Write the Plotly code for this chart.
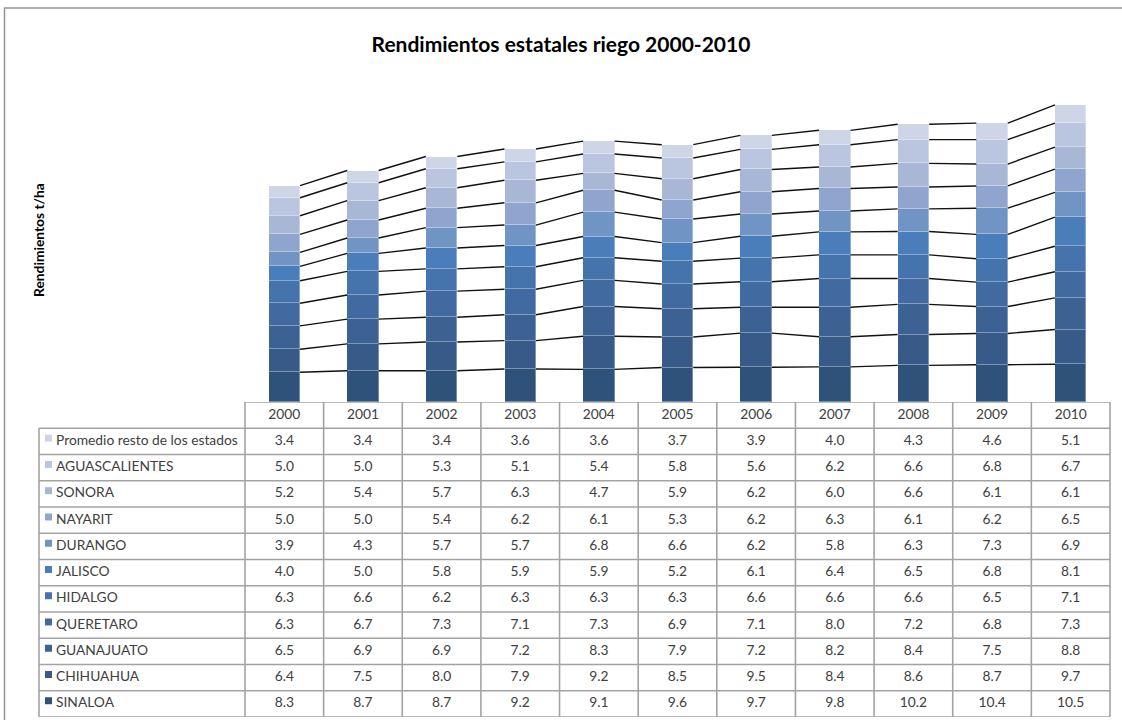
import plotly.graph_objects as go

# ---- data -------------------------------------------------------------
years = ["2000", "2001", "2002", "2003", "2004", "2005",
         "2006", "2007", "2008", "2009", "2010"]

promedio_resto = [3.4, 3.4, 3.4, 3.6, 3.6, 3.7, 3.9, 4.0, 4.3, 4.6, 5.1]
aguascalientes = [5.0, 5.0, 5.3, 5.1, 5.4, 5.8, 5.6, 6.2, 6.6, 6.8, 6.7]
sonora = [5.2, 5.4, 5.7, 6.3, 4.7, 5.9, 6.2, 6.0, 6.6, 6.1, 6.1]
nayarit = [5.0, 5.0, 5.4, 6.2, 6.1, 5.3, 6.2, 6.3, 6.1, 6.2, 6.5]
durango = [3.9, 4.3, 5.7, 5.7, 6.8, 6.6, 6.2, 5.8, 6.3, 7.3, 6.9]
jalisco = [4.0, 5.0, 5.8, 5.9, 5.9, 5.2, 6.1, 6.4, 6.5, 6.8, 8.1]
hidalgo = [6.3, 6.6, 6.2, 6.3, 6.3, 6.3, 6.6, 6.6, 6.6, 6.5, 7.1]
queretaro = [6.3, 6.7, 7.3, 7.1, 7.3, 6.9, 7.1, 8.0, 7.2, 6.8, 7.3]
guanajuato = [6.5, 6.9, 6.9, 7.2, 8.3, 7.9, 7.2, 8.2, 8.4, 7.5, 8.8]
chihuahua = [6.4, 7.5, 8.0, 7.9, 9.2, 8.5, 9.5, 8.4, 8.6, 8.7, 9.7]
sinaloa = [8.3, 8.7, 8.7, 9.2, 9.1, 9.6, 9.7, 9.8, 10.2, 10.4, 10.5]

# table order (top row first); the stack is drawn in reverse (SINALOA at the base)
series_names = ["Promedio resto de los estados", "AGUASCALIENTES", "SONORA",
                "NAYARIT", "DURANGO", "JALISCO", "HIDALGO", "QUERETARO",
                "GUANAJUATO", "CHIHUAHUA", "SINALOA"]
series_values = [promedio_resto, aguascalientes, sonora, nayarit, durango,
                 jalisco, hidalgo, queretaro, guanajuato, chihuahua, sinaloa]
series_colors = ["#cdd5e6", "#bac6df", "#a8b7d5", "#8fa5cd", "#7094c4",
                 "#4a7ebb", "#4574ad", "#416aa0", "#3c6293", "#375a88",
                 "#2f527b"]

# ---- layout geometry (pixels) -----------------------------------------
W, H = 1122, 720
ML, MR, MT, MB = 37, 10, 79, 3
COL_LEFT, COL_RIGHT = 245, 1110      # year columns of the data table
LABEL_LEFT = 39                      # left edge of the series-name column
AXIS_Y = 402                         # baseline of the bars / top of table

n = len(years)
plot_w = W - ML - MR
plot_h = H - MT - MB
col_w = (COL_RIGHT - COL_LEFT) / n
x_min = -0.5 - (COL_LEFT - ML) / col_w
x_max = n - 0.5 + (W - MR - COL_RIGHT) / col_w
x_label = -0.5 - (COL_LEFT - LABEL_LEFT) / col_w
split = (H - MB - AXIS_Y) / plot_h
BAR_W = 0.4
xs = list(range(n))

TXT = "#404040"
FONT = "Lato"
TABLE_SIZE = 13.8

fig = go.Figure()

# ---- stacked bars ------------------------------------------------------
for name, vals, col in zip(reversed(series_names), reversed(series_values),
                           reversed(series_colors)):
    fig.add_trace(go.Bar(
        x=xs, y=vals, name=name, width=BAR_W,
        marker=dict(color=col, line=dict(color="rgba(255,255,255,0.35)", width=1)),
        xaxis="x", yaxis="y", showlegend=False,
    ))

# ---- series lines joining the top of each segment ---------------------
cum = [0.0] * n
for vals in reversed(series_values):
    cum = [c + v for c, v in zip(cum, vals)]
    lx, ly = [], []
    for i in range(n - 1):
        lx += [i + BAR_W / 2, i + 1 - BAR_W / 2, None]
        ly += [cum[i], cum[i + 1], None]
    fig.add_trace(go.Scatter(
        x=lx, y=ly, mode="lines", line=dict(color="#111111", width=1.4),
        xaxis="x", yaxis="y", showlegend=False, hoverinfo="skip",
    ))

# ---- data table ---------------------------------------------------------
n_rows = len(series_names) + 1     # header + one row per series
gx, gy = [], []
gx += [-0.5, n - 0.5, None]
gy += [0, 0, None]
for r in range(1, n_rows + 1):
    gx += [x_label, n - 0.5, None]
    gy += [r, r, None]
gx += [x_label, x_label, None]
gy += [1, n_rows, None]
for k in range(n + 1):
    gx += [k - 0.5, k - 0.5, None]
    gy += [0, n_rows, None]
fig.add_trace(go.Scatter(
    x=gx, y=gy, mode="lines", line=dict(color="#a3a3a3", width=1.6),
    xaxis="x", yaxis="y2", showlegend=False, hoverinfo="skip",
))

# year header
fig.add_trace(go.Scatter(
    x=xs, y=[0.5] * n, mode="text", text=years,
    textfont=dict(family=FONT, size=TABLE_SIZE, color=TXT),
    xaxis="x", yaxis="y2", showlegend=False, hoverinfo="skip",
))

# values
for r, vals in enumerate(series_values, start=1):
    fig.add_trace(go.Scatter(
        x=xs, y=[r + 0.5] * n, mode="text",
        text=[f"{v:.1f}" for v in vals],
        textfont=dict(family=FONT, size=TABLE_SIZE, color=TXT),
        xaxis="x", yaxis="y2", showlegend=False, hoverinfo="skip",
    ))

# legend keys and series names
rows = [r + 0.5 for r in range(1, n_rows)]
fig.add_trace(go.Scatter(
    x=[x_label + 9.5 / col_w] * len(series_names), y=[r - 0.12 for r in rows],
    mode="markers", marker=dict(symbol="square", size=7, color=series_colors),
    xaxis="x", yaxis="y2", showlegend=False, hoverinfo="skip",
))
fig.add_trace(go.Scatter(
    x=[x_label + 17 / col_w] * len(series_names), y=rows, mode="text",
    text=series_names, textposition="middle right",
    textfont=dict(family=FONT, size=TABLE_SIZE, color=TXT),
    xaxis="x", yaxis="y2", showlegend=False, hoverinfo="skip",
))

# ---- axes & layout ----------------------------------------------------
fig.update_layout(
    width=W, height=H,
    margin=dict(l=ML, r=MR, t=MT, b=MB, pad=0),
    paper_bgcolor="white", plot_bgcolor="white",
    barmode="stack", bargap=0,
    title=dict(text="<b>Rendimientos estatales riego 2000-2010</b>",
               x=0.5, xref="container", xanchor="center",
               y=1 - 45 / H, yref="container", yanchor="middle",
               font=dict(family=FONT, size=21, color="#000000")),
    xaxis=dict(range=[x_min, x_max], showgrid=False, zeroline=False,
               showticklabels=False, showline=False, ticks="", fixedrange=True),
    yaxis=dict(domain=[split, 1], range=[0, 90], showgrid=False, zeroline=False,
               showticklabels=False, showline=False, ticks=""),
    yaxis2=dict(domain=[0, split], range=[n_rows, 0], showgrid=False,
                zeroline=False, showticklabels=False, showline=False, ticks=""),
    annotations=[dict(
        text="<b>Rendimientos t/ha</b>", textangle=-90,
        xref="paper", yref="paper",
        x=(38 - ML) / plot_w, y=(H - MB - 240) / plot_h,
        xanchor="center", yanchor="middle", showarrow=False,
        font=dict(family=FONT, size=13.8, color="#000000"),
    )],
    shapes=[dict(
        type="rect", xref="paper", yref="paper",
        x0=(4.5 - ML) / plot_w, x1=(W + 20 - ML) / plot_w,
        y0=(H - MB - (H + 20)) / plot_h, y1=(H - MB - 8) / plot_h,
        line=dict(color="#959595", width=1.5), layer="below",
    )],
)

fig.write_html("out.html")
